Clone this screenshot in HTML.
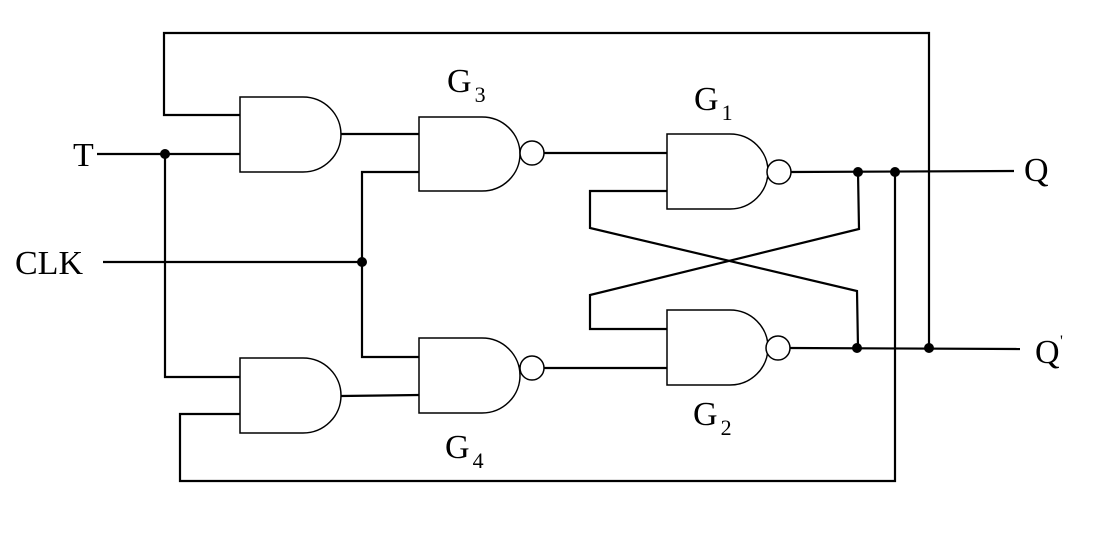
<!DOCTYPE html>
<html><head><meta charset="utf-8"><style>body{margin:0;background:#fff}svg{display:block}</style></head><body>
<svg width="1100" height="548" xmlns="http://www.w3.org/2000/svg" font-family="Liberation Serif, serif" fill="none">
<g stroke="#000" stroke-width="2.2">
<polyline points="240,115 164,115 164,33 929,33 929,348"/>
<line x1="97" y1="154" x2="240" y2="154"/>
<polyline points="165,154 165,377 240,377"/>
<line x1="103" y1="262" x2="362" y2="262"/>
<polyline points="419,172 362,172 362,357 419,357"/>
<line x1="341" y1="134" x2="419" y2="134"/>
<line x1="341" y1="396" x2="419" y2="395"/>
<polyline points="240,414 180,414 180,481 895,481 895,172"/>
<line x1="544" y1="153" x2="667" y2="153"/>
<line x1="544" y1="368" x2="667" y2="368"/>
<line x1="791" y1="172" x2="1014" y2="171"/>
<line x1="790" y1="348" x2="1020" y2="349"/>
<polyline points="667,191 590,191 590,228 857,291 858,348"/>
<polyline points="858,172 859,229 590,295 590,329 667,329"/>
</g>
<g stroke="#000" stroke-width="1.5" fill="#fff">
<path d="M240,97 H303 A38,37.5 0 0 1 303,172 H240 Z"/>
<path d="M240,358 H303 A38,37.5 0 0 1 303,433 H240 Z"/>
<path d="M419,117 H482 A38,37 0 0 1 482,191 H419 Z"/>
<path d="M419,338 H482 A38,37.5 0 0 1 482,413 H419 Z"/>
<path d="M667,134 H730 A38,37.5 0 0 1 730,209 H667 Z"/>
<path d="M667,310 H730 A38,37.5 0 0 1 730,385 H667 Z"/>
<circle cx="532" cy="153" r="12"/>
<circle cx="532" cy="368" r="12"/>
<circle cx="779" cy="172" r="12"/>
<circle cx="778" cy="348" r="12"/>
</g>
<g fill="#000">
<circle cx="165" cy="154" r="5"/>
<circle cx="362" cy="262" r="5"/>
<circle cx="858" cy="172" r="5"/>
<circle cx="895" cy="172" r="5"/>
<circle cx="857" cy="348" r="5"/>
<circle cx="929" cy="348" r="5"/>
<text x="73" y="166" font-size="34">T</text>
<text x="15" y="274" font-size="34">CLK</text>
<text x="1024" y="181" font-size="34">Q</text>
<text x="1035" y="363" font-size="34">Q</text>
<text x="1060" y="346" font-size="16">'</text>
<text x="447" y="92" font-size="34">G<tspan font-size="22" dx="3" dy="10">3</tspan></text>
<text x="694" y="110" font-size="34">G<tspan font-size="22" dx="3" dy="10">1</tspan></text>
<text x="693" y="425" font-size="34">G<tspan font-size="22" dx="3" dy="10">2</tspan></text>
<text x="445" y="458" font-size="34">G<tspan font-size="22" dx="3" dy="10">4</tspan></text>
</g>
</svg>
</body></html>
